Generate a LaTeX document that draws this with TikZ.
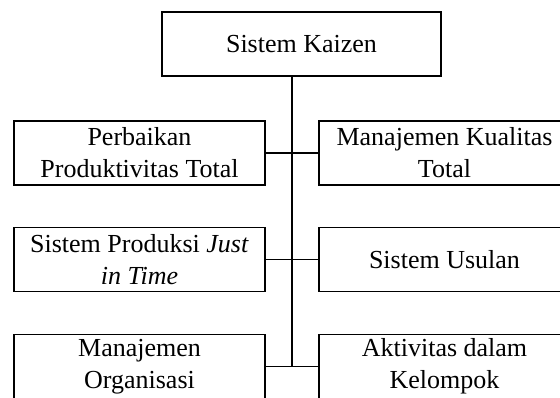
\documentclass[tikz,border=0pt]{standalone}
\usepackage{fontspec}
\setmainfont{Liberation Serif}
\usetikzlibrary{positioning, calc}

\tikzset{
    box/.style={draw, line width=1.3pt, align=center, inner sep=0pt,
        minimum width=188.25pt, minimum height=48pt,
        font=\fontsize{19.5}{24}\selectfont},
    link/.style={line width=1.3pt}
}

\begin{document}
\begin{tikzpicture}[x=0.75pt, y=-0.75pt]
    % the page
    \clip (0,0) rectangle (560,397);

    % top of the tree
    \node[box, minimum width=209.25pt] (kaizen) at (301.5,44) {Sistem Kaizen};

    % left column
    \node[box] (tpm) at (139.5,153)   {Perbaikan\\Produktivitas Total};
    \node[box] (jit) at (139.5,259.5) {Sistem Produksi \textit{Just}\\\textit{in Time}};
    \node[box] (org) at (139.5,366.5) {Manajemen\\Organisasi};

    % right column
    \node[box] (tqm) at (444.5,153)   {Manajemen Kualitas\\Total};
    \node[box] (usul) at (444.5,259.5) {Sistem Usulan};
    \node[box] (klp) at (444.5,366.5) {Aktivitas dalam\\Kelompok};

    % the trunk ends between the last pair
    \coordinate (end) at ($ (org.east)!.5!(klp.west) $);
    \draw[link] (kaizen.south -| end) -- (end);

    % branches
    \draw[link] (tpm.east) -- (tqm.west);
    \draw[link] (jit.east) -- (usul.west);
    \draw[link] (org.east) -- (klp.west);
\end{tikzpicture}
\end{document}
